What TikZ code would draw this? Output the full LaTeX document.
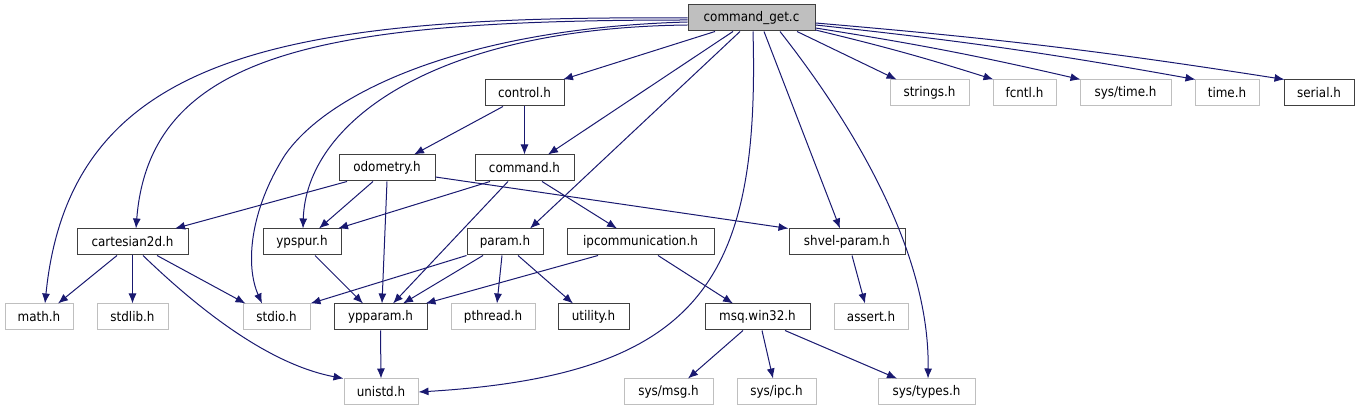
\documentclass[tikz,border=0pt]{standalone}
\usepackage{fontspec}
\setmainfont{DejaVu Sans Condensed}
\usetikzlibrary{arrows.meta}
\definecolor{edgeblue}{HTML}{191970}
\definecolor{boxgray}{HTML}{BFBFBF}
\definecolor{boxdark}{HTML}{404040}

\begin{document}
\begin{tikzpicture}[x=1pt,y=-1pt,
  hbox/.style={draw=boxdark, line width=1pt, minimum height=26, inner sep=0pt, font=\fontsize{13.3}{15}\selectfont},
  sbox/.style={hbox, draw=boxgray},
  rbox/.style={hbox, fill=boxgray},
  inc/.style={draw=edgeblue, line width=1pt, -{Latex[length=10pt,width=8pt]}}]
 \useasboundingbox (0,0) rectangle (1360,411);
 \node[rbox, minimum width=127] (root) at (751.5,18) {command\_get.c};
 \node[hbox, minimum width=79] (ctrl) at (524.5,93) {control.h};
 \node[sbox, minimum width=79] (strs) at (929.5,93) {strings.h};
 \node[sbox, minimum width=63] (fcntl) at (1024.5,93) {fcntl.h};
 \node[sbox, minimum width=91] (systime) at (1125.5,93) {sys/time.h};
 \node[sbox, minimum width=64] (timeh) at (1227,93) {time.h};
 \node[hbox, minimum width=70] (serial) at (1319,93) {serial.h};
 \node[hbox, minimum width=96] (odom) at (387,168) {odometry.h};
 \node[hbox, minimum width=99] (cmd) at (524.5,168) {command.h};
 \node[hbox, minimum width=111] (cart) at (132.5,242) {cartesian2d.h};
 \node[hbox, minimum width=78] (ypspur) at (302,242) {ypspur.h};
 \node[hbox, minimum width=76] (param) at (505,242) {param.h};
 \node[hbox, minimum width=147] (ipc) at (640.5,242) {ipcommunication.h};
 \node[hbox, minimum width=116] (shvel) at (847,242) {shvel-param.h};
 \node[sbox, minimum width=68] (mathh) at (39,317) {math.h};
 \node[sbox, minimum width=71] (stdlib) at (132.5,317) {stdlib.h};
 \node[sbox, minimum width=67] (stdio) at (276.5,317) {stdio.h};
 \node[hbox, minimum width=93] (ypparam) at (380.5,317) {ypparam.h};
 \node[sbox, minimum width=84] (pthread) at (493,317) {pthread.h};
 \node[hbox, minimum width=71] (utility) at (593.5,317) {utility.h};
 \node[hbox, minimum width=105] (msq) at (757.5,317) {msq.win32.h};
 \node[sbox, minimum width=74] (assert) at (871,317) {assert.h};
 \node[sbox, minimum width=74] (unistd) at (381,392) {unistd.h};
 \node[sbox, minimum width=89] (sysmsg) at (668.5,392) {sys/msg.h};
 \node[sbox, minimum width=79] (sysipc) at (776.5,392) {sys/ipc.h};
 \node[sbox, minimum width=97] (systypes) at (926.5,392) {sys/types.h};

 \draw[inc] ([xshift=-36.5]root.south) -- ([xshift=38.5]ctrl.north);
 \draw[inc] ([xshift=-18.5]root.south) -- ([xshift=23.5]cmd.north);
 \draw[inc] ([xshift=-11.5]root.south) -- ([xshift=25]param.north);
 \draw[inc] ([xshift=1.5]root.south) .. controls +(7,249) and +(282,-17) .. (unistd.east);
 \draw[inc] ([xshift=12.5]root.south) -- ([xshift=-7]shvel.north);
 \draw[inc] ([xshift=28.5]root.south) .. controls +(70,89) and +(2,-129) .. ([xshift=1.5]systypes.north);
 \draw[inc] ([xshift=45.5]root.south) -- ([xshift=7]strs.north west);
 \draw[inc] ([yshift=-12]root.east) to[bend left=2] ([xshift=1]fcntl.north west);
 \draw[inc] ([yshift=-10]root.east) to[bend left=2] ([xshift=1]systime.north west);
 \draw[inc] ([yshift=-7]root.east) to[bend left=2] ([xshift=1]timeh.north west);
 \draw[inc] ([yshift=-5]root.east) to[bend left=2] ([xshift=1]serial.north west);
 \draw[inc] ([yshift=-7]root.west) .. controls +(-258,3) and +(3,-104) .. ([xshift=1]ypspur.north);
 \draw[inc] ([yshift=-4]root.west) .. controls (470,28) and (330,90) .. (285,155)
   .. controls (250,210) and (245,265) .. ([xshift=-14.5]stdio.north);
 \draw[inc] ([yshift=-2]root.west) .. controls +(-358,0) and +(14,-179) .. ([xshift=3.5]cart.north);
 \draw[inc] (root.west) .. controls +(-408,-3) and +(25,-249) .. ([xshift=6]mathh.north);

 \draw[inc] ([xshift=-21.5]ctrl.south) -- ([xshift=27]odom.north);
 \draw[inc] (ctrl.south) -- (cmd.north);
 \draw[inc] ([xshift=-40]odom.south) -- ([xshift=42.5]cart.north);
 \draw[inc] ([xshift=-14]odom.south) -- ([xshift=17]ypspur.north);
 \draw[inc] (odom.south) -- ([xshift=1.5]ypparam.north);
 \draw[inc] ([yshift=-9]odom.east) -- (shvel.north west);
 \draw[inc] ([xshift=-34.5]cmd.south) -- ([xshift=36]ypspur.north);
 \draw[inc] ([xshift=-16.5]cmd.south) -- ([xshift=12.5]ypparam.north);
 \draw[inc] ([xshift=17.5]cmd.south) -- ([xshift=-23.5]ipc.north);
 \draw[inc] ([xshift=-15.5]cart.south) -- ([xshift=19]mathh.north);
 \draw[inc] (cart.south) -- (stdlib.north);
 \draw[inc] ([xshift=24.5]cart.south) -- ([xshift=-31]stdio.north);
 \draw[inc] ([xshift=10.5]cart.south) .. controls +(57,55) and +(-74,-14) .. (unistd.north west);
 \draw[inc] ([xshift=13]ypspur.south) -- ([xshift=-17.5]ypparam.north);
 \draw[inc] (param.south west) -- (stdio.north east);
 \draw[inc] ([xshift=-22]param.south) -- ([xshift=22.5]ypparam.north);
 \draw[inc] ([xshift=-3]param.south) -- ([xshift=4]pthread.north);
 \draw[inc] ([xshift=13]param.south) -- ([xshift=-20.5]utility.north);
 \draw[inc] ([xshift=-42.5]ipc.south) -- ([xshift=-2]ypparam.north east);
 \draw[inc] ([xshift=17.5]ipc.south) -- ([xshift=-24.5]msq.north);
 \draw[inc] ([xshift=5]shvel.south) -- ([xshift=-6]assert.north);
 \draw[inc] (ypparam.south) -- (unistd.north);
 \draw[inc] ([xshift=-14.5]msq.south) -- ([xshift=19.5]sysmsg.north);
 \draw[inc] ([xshift=4.5]msq.south) -- ([xshift=-3.5]sysipc.north);
 \draw[inc] ([xshift=27.5]msq.south) -- ([xshift=-29.5]systypes.north);
\end{tikzpicture}
\end{document}
